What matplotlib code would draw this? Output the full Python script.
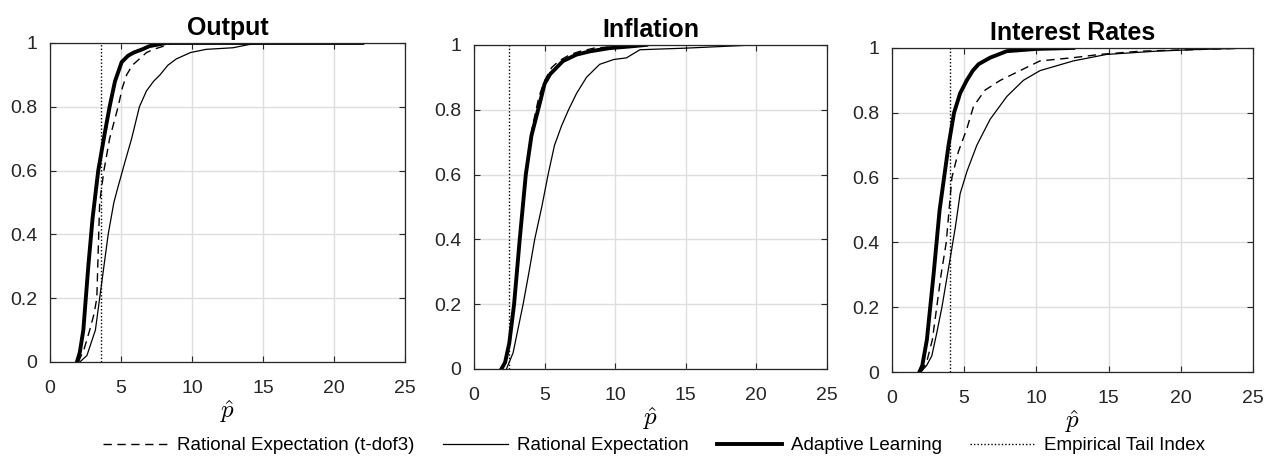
import matplotlib
matplotlib.use("Agg")
import matplotlib.pyplot as plt

plt.rcParams['font.family'] = ['Liberation Sans', 'DejaVu Sans']

titles = ["Output", "Inflation", "Interest Rates"]

# Output panel
out_al_x = [1.9, 2.1, 2.35, 2.7, 3.0, 3.4, 3.87, 4.2, 4.58, 5.05, 5.5, 5.9, 6.5, 7.0, 7.6, 8.2, 10.0, 15.0, 22.0]
out_al_y = [0.0, 0.03, 0.1, 0.3, 0.45, 0.6, 0.72, 0.8, 0.88, 0.94, 0.96, 0.97, 0.98, 0.99, 0.995, 1.0, 1.0, 1.0, 1.0]
out_td_x = [2.0, 2.4, 2.8, 3.1, 3.3, 3.5, 3.8, 4.2, 4.8, 5.1, 5.4, 5.8, 6.3, 6.8, 7.3, 8.0, 8.7, 12.0]
out_td_y = [0.0, 0.04, 0.1, 0.15, 0.2, 0.5, 0.6, 0.7, 0.8, 0.86, 0.9, 0.93, 0.95, 0.97, 0.98, 0.99, 1.0, 1.0]
out_re_x = [2.1, 2.6, 3.2, 3.5, 3.8, 4.1, 4.5, 4.8, 5.3, 5.75, 6.3, 6.8, 7.3, 7.75, 8.3, 8.9, 9.9, 11.0, 12.9, 14.0, 15.3]
out_re_y = [0.0, 0.02, 0.1, 0.2, 0.3, 0.4, 0.5, 0.55, 0.63, 0.7, 0.8, 0.85, 0.88, 0.9, 0.93, 0.95, 0.97, 0.98, 0.985, 0.995, 1.0]
out_tail = 3.57

# Inflation panel
inf_al_x = [1.94, 2.2, 2.5, 2.84, 3.24, 3.67, 4.07, 4.66, 5.0, 5.4, 5.85, 6.3, 7.26, 8.2, 9.6, 11.0, 12.2]
inf_al_y = [0.0, 0.02, 0.08, 0.2, 0.4, 0.6, 0.72, 0.82, 0.88, 0.91, 0.93, 0.95, 0.97, 0.98, 0.99, 0.995, 1.0]
inf_td_x = [2.0, 2.3, 2.6, 2.9, 3.3, 3.7, 4.1, 4.6, 5.0, 5.5, 6.0, 6.8, 7.5, 8.5, 10.0, 11.5]
inf_td_y = [0.0, 0.03, 0.1, 0.22, 0.42, 0.62, 0.74, 0.84, 0.89, 0.93, 0.95, 0.97, 0.98, 0.99, 0.995, 1.0]
inf_re_x = [2.3, 2.77, 3.1, 3.48, 3.9, 4.3, 4.8, 5.25, 5.7, 6.2, 6.7, 7.26, 7.97, 8.9, 9.9, 10.8, 11.75, 13.0, 15.0, 17.5, 19.9]
inf_re_y = [0.0, 0.05, 0.12, 0.2, 0.3, 0.4, 0.5, 0.6, 0.69, 0.75, 0.8, 0.85, 0.9, 0.94, 0.955, 0.96, 0.985, 0.987, 0.99, 0.995, 1.0]
inf_tail = 2.48

# Interest rates panel
int_al_x = [1.9, 2.1, 2.42, 2.88, 3.3, 3.92, 4.3, 4.72, 5.18, 5.6, 6.0, 6.8, 7.95, 10.0, 12.56]
int_al_y = [0.0, 0.02, 0.1, 0.3, 0.5, 0.7, 0.8, 0.86, 0.9, 0.93, 0.95, 0.97, 0.99, 0.997, 1.0]
int_td_x = [2.0, 2.4, 2.8, 3.1, 3.4, 3.76, 4.15, 4.6, 5.18, 5.65, 6.45, 7.5, 8.87, 10.25, 12.56, 14.4, 17.2, 21.0, 25.0]
int_td_y = [0.0, 0.03, 0.1, 0.2, 0.3, 0.4, 0.6, 0.68, 0.75, 0.82, 0.87, 0.9, 0.93, 0.96, 0.97, 0.98, 0.99, 0.995, 1.0]
int_re_x = [2.0, 2.4, 2.76, 3.1, 3.46, 4.03, 4.4, 4.72, 5.2, 5.88, 6.8, 7.95, 9.1, 10.25, 12.56, 14.86, 18.3, 21.0, 25.0]
int_re_y = [0.0, 0.02, 0.05, 0.12, 0.2, 0.35, 0.45, 0.55, 0.62, 0.7, 0.78, 0.85, 0.9, 0.93, 0.96, 0.98, 0.99, 0.995, 1.0]
int_tail = 4.03

legend_labels = ["Rational Expectation (t-dof3)", "Rational Expectation",
                 "Adaptive Learning", "Empirical Tail Index"]
xticks = [0, 5, 10, 15, 20, 25]
yticks = [0, 0.2, 0.4, 0.6, 0.8, 1]
ytick_labels = ["0", "0.2", "0.4", "0.6", "0.8", "1"]

panels = [
    (out_td_x, out_td_y, out_re_x, out_re_y, out_al_x, out_al_y, out_tail),
    (inf_td_x, inf_td_y, inf_re_x, inf_re_y, inf_al_x, inf_al_y, inf_tail),
    (int_td_x, int_td_y, int_re_x, int_re_y, int_al_x, int_al_y, int_tail),
]

fig = plt.figure(figsize=(12.65, 4.61), dpi=100)
rects = [
    [0.0395, 0.2148, 0.2806, 0.692],
    [0.3747, 0.1996, 0.2790, 0.703],
    [0.7051, 0.1930, 0.2854, 0.703],
]

handles = None
for rect, title, p in zip(rects, titles, panels):
    ax = fig.add_axes(rect)
    tdx, tdy, rex, rey, alx, aly, tail = p
    h1, = ax.plot(tdx, tdy, color='black', lw=1.0, ls=(0, (6, 4)))
    h2, = ax.plot(rex, rey, color='black', lw=0.9)
    h3, = ax.plot(alx, aly, color='black', lw=2.8)
    h4, = ax.plot([tail, tail], [0, 1], color='black', lw=1.0, ls=(0, (1, 1.5)))
    handles = [h1, h2, h3, h4]
    ax.set_xlim(0, 25)
    ax.set_ylim(0, 1)
    ax.set_xticks(xticks)
    ax.set_yticks(yticks)
    ax.set_yticklabels(ytick_labels)
    ax.grid(True, color='#dedede', lw=1.0)
    ax.set_axisbelow(True)
    ax.tick_params(direction='in', labelsize=14, colors='#262626', length=4,
                   top=True, right=True, labelcolor='#262626')
    ax.tick_params(axis='x', pad=13)
    ax.tick_params(axis='y', pad=9)
    for s in ax.spines.values():
        s.set_color('#262626')
        s.set_linewidth(0.9)
    ax.set_title(title, fontsize=18, fontweight='bold', pad=6)
    ax.set_xlabel(r'$\hat{p}$', fontsize=18, math_fontfamily='cm', labelpad=1)

fig.legend(handles, legend_labels, loc='lower center', ncol=4, frameon=False,
           bbox_to_anchor=(0.517, -0.022), fontsize=13.5, handlelength=3.5,
           columnspacing=1.5, handletextpad=0.45)

fig.savefig("out.png", dpi=100)
